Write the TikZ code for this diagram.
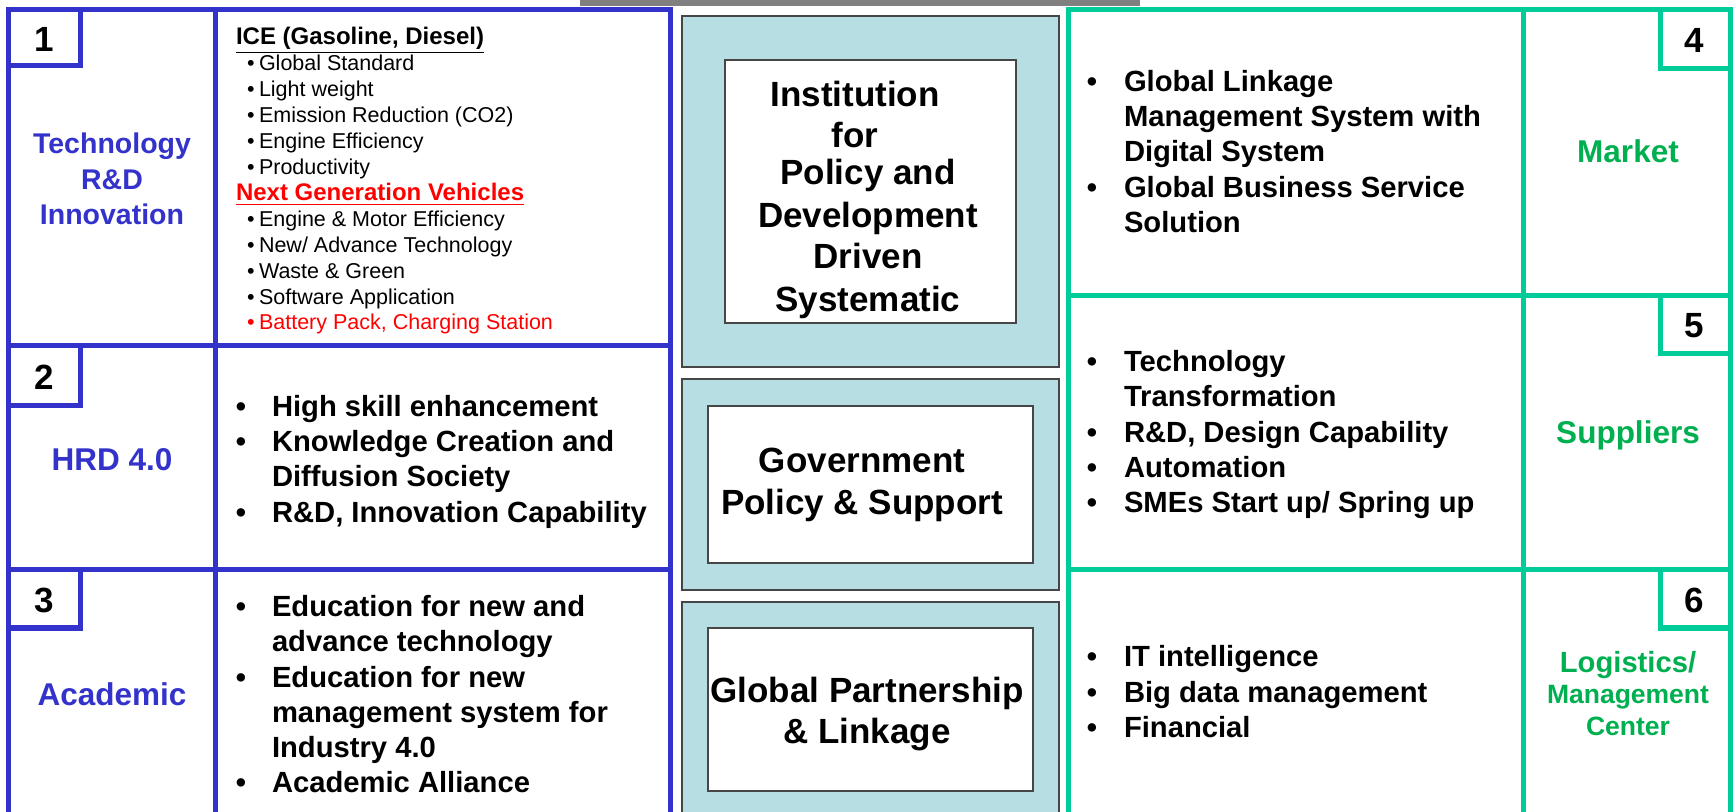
\documentclass[tikz,border=0pt]{standalone}
\usepackage{fontspec}
\setmainfont{Liberation Sans}
\definecolor{pblue}{RGB}{51,51,204}
\definecolor{pgreen}{RGB}{0,204,153}
\definecolor{tgreen}{RGB}{0,176,80}
\definecolor{lblue}{RGB}{183,222,226}
\definecolor{bgray}{RGB}{128,128,128}
\definecolor{edgegray}{RGB}{70,70,70}
\definecolor{pred}{RGB}{255,0,0}
\newcommand\FtNum{\fontsize{17.5pt}{20pt}\selectfont\bfseries}
\newcommand\FtLab{\fontsize{14.25pt}{17pt}\selectfont\bfseries}
\newcommand\FtLabB{\fontsize{15.75pt}{18pt}\selectfont\bfseries}
\newcommand\FtSm{\fontsize{10.75pt}{13pt}\selectfont}
\newcommand\FtHd{\fontsize{12pt}{13pt}\selectfont\bfseries}
\newcommand\FtBul{\fontsize{14.6pt}{17.5pt}\selectfont\bfseries}
\newcommand\FtMid{\fontsize{17.5pt}{20.5pt}\selectfont\bfseries}
\newcommand\FtLog{\fontsize{14.6pt}{17pt}\selectfont\bfseries}
\newcommand\FtMgt{\fontsize{13.25pt}{16pt}\selectfont\bfseries}
\begin{document}
\begin{tikzpicture}[x=0.5pt,y=-0.5pt,
  every node/.style={inner sep=0pt,outer sep=0pt},
  bframe/.style={draw=pblue,line width=2.5pt},
  gframe/.style={draw=pgreen,line width=2.5pt},
  outerbox/.style={fill=lblue,draw=edgegray,line width=0.8pt},
  innerbox/.style={fill=white,draw=edgegray,line width=0.8pt},
  numtxt/.style={font=\FtNum,text=black},
  blab/.style={anchor=base,font=\FtLab,text=pblue},
  blabb/.style={anchor=base,font=\FtLabB,text=pblue},
  glab/.style={anchor=base,font=\FtLabB,text=tgreen},
  smb/.style={anchor=base,font=\FtSm,text=black},
  smt/.style={anchor=base west,font=\FtSm,text=black},
  hdt/.style={anchor=base west,font=\FtHd},
  bbul/.style={anchor=base,font=\FtBul,text=black},
  btxt/.style={anchor=base west,font=\FtBul,text=black},
  midt/.style={anchor=base,font=\FtMid,text=black}]
\useasboundingbox (0,0) rectangle (1736,812);
\fill[white] (0,0) rectangle (1736,812);
\fill[bgray] (580,0) rectangle (1140,6);

% middle column boxes
\draw[outerbox] (682,16) rectangle (1059,367);
\draw[innerbox] (725,60) rectangle (1016,323);
\draw[outerbox] (682,379) rectangle (1059,590);
\draw[innerbox] (708,406) rectangle (1033,563);
\draw[outerbox] (682,602) rectangle (1059,830);
\draw[innerbox] (708,628) rectangle (1033,791);

% blue frame
\draw[bframe] (8.5,812) -- (8.5,9.5) -- (670,9.5) -- (670,812);
\draw[bframe] (215.5,9.5) -- (215.5,812);
\draw[bframe] (8.5,346) -- (670,346);
\draw[bframe] (8.5,570) -- (670,570);
\draw[bframe] (80.5,9.5) |- (8.5,66);
\draw[bframe] (80.5,346) |- (8.5,406);
\draw[bframe] (80.5,570) |- (8.5,628);

% green frame
\draw[gframe] (1068,812) -- (1068,9.5) -- (1730,9.5) -- (1730,812);
\draw[gframe] (1523,9.5) -- (1523,812);
\draw[gframe] (1068,296) -- (1730,296);
\draw[gframe] (1068,570) -- (1730,570);
\draw[gframe] (1660,9.5) |- (1730,69);
\draw[gframe] (1660,296) |- (1730,354);
\draw[gframe] (1660,570) |- (1730,628);

% numbers
\node[numtxt] (n1) at (44,39.5) {1};
\node[numtxt] (n2) at (44.5,377.5) {2};
\node[numtxt] (n3) at (44.5,600) {3};
\node[numtxt] (n4) at (1694,40) {4};
\node[numtxt] (n5) at (1694,325.5) {5};
\node[numtxt] (n6) at (1694,600.5) {6};

% left labels
\node[blab] (l1a) at (112,154) {Technology};
\node[blab] (l1b) at (112,189.5) {R\&D};
\node[blab] (l1c) at (112,225) {Innovation};
\node[blabb] (l2) at (112,471) {HRD 4.0};
\node[blabb] (l3) at (112,705) {Academic};

% row 1 list
\node[hdt,text=black] (h1) at (236,45) {\underline{ICE (Gasoline, Diesel)}};
\node[smb] (b1) at (251,71) {•};   \node[smt] (s1) at (259,71) {Global Standard};
\node[smb] (b2) at (251,97) {•};   \node[smt] (s2) at (259,97) {Light weight};
\node[smb] (b3) at (251,123) {•};  \node[smt] (s3) at (259,123) {Emission Reduction (CO2)};
\node[smb] (b4) at (251,149) {•};  \node[smt] (s4) at (259,149) {Engine Efficiency};
\node[smb] (b5) at (251,174.5) {•};\node[smt] (s5) at (259,174.5) {Productivity};
\node[hdt,text=pred] (h2) at (236,201) {\underline{Next Generation Vehicles}};
\node[smb] (b6) at (251,227) {•};  \node[smt] (s6) at (259,227) {Engine \& Motor Efficiency};
\node[smb] (b7) at (251,253) {•};  \node[smt] (s7) at (259,253) {New/ Advance Technology};
\node[smb] (b8) at (251,279) {•};  \node[smt] (s8) at (259,279) {Waste \& Green};
\node[smb] (b9) at (251,304.5) {•};\node[smt] (s9) at (259,304.5) {Software Application};
\node[smb,text=pred] (b10) at (251,330) {•};\node[smt,text=pred] (s10) at (259,330) {Battery Pack, Charging Station};

% row 2 list
\node[bbul] (c1) at (241,417) {•}; \node[btxt] (d1) at (272,417) {High skill enhancement};
\node[bbul] (c2) at (241,452) {•}; \node[btxt] (d2) at (272,452) {Knowledge Creation and};
\node[btxt] (d3) at (272,487) {Diffusion Society};
\node[bbul] (c4) at (241,523) {•}; \node[btxt] (d4) at (272,523) {R\&D, Innovation Capability};

% row 3 list
\node[bbul] (e1) at (241,617) {•}; \node[btxt] (f1) at (272,617) {Education for new and};
\node[btxt] (f2) at (272,652) {advance technology};
\node[bbul] (e3) at (241,687) {•}; \node[btxt] (f3) at (272,687) {Education for new};
\node[btxt] (f4) at (272,722) {management system for};
\node[btxt] (f5) at (272,757) {Industry 4.0};
\node[bbul] (e6) at (241,792) {•}; \node[btxt] (f6) at (272,792) {Academic Alliance};

% middle texts
\node[midt] (m1) at (855,107) {Institution};
\node[midt] (m2) at (855,148) {for};
\node[midt] (m3) at (868,185) {Policy and};
\node[midt] (m4) at (868,228) {Development};
\node[midt] (m5) at (868,269) {Driven};
\node[midt] (m6) at (868,312) {Systematic};
\node[midt] (g1) at (862,473) {Government};
\node[midt] (g2) at (862,515) {Policy \& Support};
\node[midt] (p1) at (867,702) {Global Partnership};
\node[midt] (p2) at (867,743) {\& Linkage};

% row 4 list
\node[bbul] (r1) at (1092,92) {•}; \node[btxt] (q1) at (1124,92) {Global Linkage};
\node[btxt] (q2) at (1124,127) {Management System with};
\node[btxt] (q3) at (1124,162) {Digital System};
\node[bbul] (r4) at (1092,198) {•}; \node[btxt] (q4) at (1124,198) {Global Business Service};
\node[btxt] (q5) at (1124,233) {Solution};

% row 5 list
\node[bbul] (u1) at (1092,372) {•}; \node[btxt] (v1) at (1124,372) {Technology};
\node[btxt] (v2) at (1124,407) {Transformation};
\node[bbul] (u3) at (1092,443) {•}; \node[btxt] (v3) at (1124,443) {R\&D, Design Capability};
\node[bbul] (u4) at (1092,478) {•}; \node[btxt] (v4) at (1124,478) {Automation};
\node[bbul] (u5) at (1092,513) {•}; \node[btxt] (v5) at (1124,513) {SMEs Start up/ Spring up};

% row 6 list
\node[bbul] (w1) at (1092,667) {•}; \node[btxt] (z1) at (1124,667) {IT intelligence};
\node[bbul] (w2) at (1092,702) {•}; \node[btxt] (z2) at (1124,702) {Big data management};
\node[bbul] (w3) at (1092,737) {•}; \node[btxt] (z3) at (1124,737) {Financial};

% right labels
\node[glab] (k4) at (1628,163) {Market};
\node[glab] (k5) at (1628,444) {Suppliers};
\node[anchor=base,font=\FtLog,text=tgreen] (k6a) at (1628,672) {Logistics/};
\node[anchor=base,font=\FtMgt,text=tgreen] (k6b) at (1628,703) {Management};
\node[anchor=base,font=\FtMgt,text=tgreen] (k6c) at (1628,735) {Center};
\end{tikzpicture}
\end{document}
